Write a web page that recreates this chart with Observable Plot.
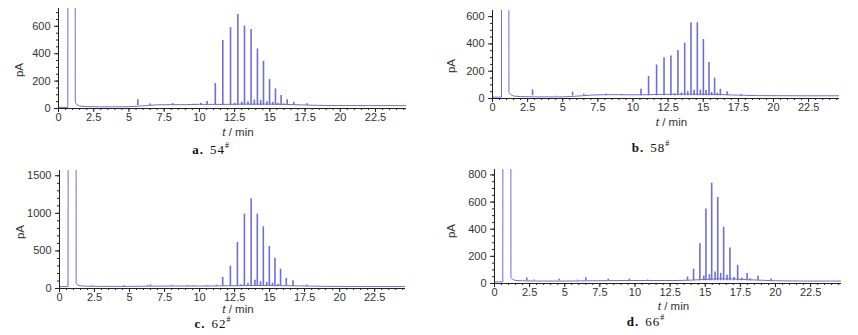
<!DOCTYPE html>
<html><head><meta charset="utf-8">
<script src="https://cdn.jsdelivr.net/npm/d3@7"></script>
<script src="https://cdn.jsdelivr.net/npm/@observablehq/plot@0.6"></script>
<style>
body{margin:0;background:#fff;}
#wrap{position:relative;width:858px;height:335px;overflow:hidden;}
.panel{position:absolute;}
.cap{position:absolute;font-family:"Liberation Serif","DejaVu Serif",serif;font-size:13px;line-height:11px;color:#111;white-space:nowrap;transform:translate(-50%,-50%);letter-spacing:1px;}
.cap b{font-weight:bold;margin-right:6px;}
.cap sup{font-size:8px;vertical-align:6px;line-height:0;}
</style></head><body><div id="wrap"></div>
<script>
// ---- shared tick labels ----
const xMajor = [0, 2.5, 5, 7.5, 10, 12.5, 15, 17.5, 20, 22.5];
const xMax = 24.7;

// ---- panel a: 54# ----
const aBaseT = [0, 0.66, 0.69, 1.16, 1.19, 1.3, 1.5, 2.0, 3.0, 5.0, 5.8, 6.4, 7.0, 8.0, 9.0, 10.0, 11.0, 12.0, 13.0, 14.0, 15.0, 16.0, 17.0, 18.0, 19.0, 22.0, 24.7];
const aBaseY = [8, 8, 5000, 5000, 45, 28, 18, 14, 12, 13, 18, 22, 27, 28, 28, 30, 30, 30, 32, 32, 32, 30, 27, 24, 22, 21, 21];
const aPeakT = [5.63, 6.5, 8.1, 9.6, 10.1, 10.55, 11.13, 11.66, 12.21, 12.5, 12.73, 13.0, 13.2, 13.45, 13.67, 13.9, 14.12, 14.35, 14.55, 14.8, 14.98, 15.2, 15.4, 15.6, 15.8, 16.0, 16.23, 16.7, 17.65];
const aPeakH = [63, 32, 36, 32, 38, 52, 182, 497, 590, 38, 687, 45, 602, 50, 576, 62, 435, 58, 345, 50, 211, 45, 143, 38, 95, 32, 63, 46, 34];
const aFloor = 22;
const aYTicks = [0, 200, 400, 600];

// ---- panel b: 58# ----
const bBaseT = [0, 0.64, 0.67, 1.14, 1.17, 1.3, 1.5, 2.0, 3.0, 5.0, 5.8, 6.4, 7.0, 8.0, 9.0, 10.0, 11.0, 12.0, 14.0, 16.0, 17.0, 18.0, 19.0, 22.0, 24.7];
const bBaseY = [10, 10, 5000, 5000, 45, 28, 18, 14, 12, 12, 16, 20, 25, 28, 28, 27, 28, 30, 32, 30, 26, 23, 21, 20, 20];
const bPeakT = [2.3, 2.85, 4.6, 5.7, 6.5, 8.1, 9.2, 10.57, 11.11, 11.68, 12.21, 12.7, 12.95, 13.2, 13.45, 13.68, 13.9, 14.13, 14.35, 14.58, 14.8, 15.01, 15.2, 15.41, 15.6, 15.81, 16.0, 16.22, 16.7, 17.7];
const bPeakH = [20, 64, 22, 46, 32, 32, 28, 68, 161, 246, 298, 312, 35, 351, 40, 405, 50, 556, 60, 556, 62, 432, 58, 263, 45, 149, 38, 68, 49, 30];
const bFloor = 20;
const bYTicks = [0, 200, 400, 600];

// ---- panel c: 62# ----
const cBaseT = [0, 0.61, 0.64, 1.16, 1.19, 1.3, 1.5, 2.0, 3.0, 5.0, 6.0, 7.0, 8.0, 9.0, 10.0, 11.0, 12.0, 14.0, 16.0, 17.0, 18.0, 19.0, 22.0, 24.7];
const cBaseY = [25, 25, 9000, 9000, 70, 45, 35, 30, 28, 28, 30, 32, 33, 33, 33, 34, 36, 40, 38, 35, 32, 28, 26, 26];
const cPeakT = [2.3, 4.6, 6.3, 6.5, 8.0, 9.1, 9.6, 10.5, 11.2, 11.65, 12.2, 12.7, 12.95, 13.2, 13.45, 13.68, 13.95, 14.12, 14.35, 14.55, 14.8, 14.98, 15.2, 15.38, 15.6, 15.78, 16.19, 16.67, 17.66];
const cPeakH = [38, 40, 40, 48, 44, 40, 40, 40, 45, 146, 298, 612, 50, 990, 70, 1194, 110, 990, 90, 821, 80, 559, 70, 404, 55, 258, 133, 102, 45];
const cFloor = 30;
const cYTicks = [0, 500, 1000, 1500];

// ---- panel d: 66# ----
const dBaseT = [0, 0.59, 0.62, 1.14, 1.17, 1.3, 1.5, 2.0, 3.0, 5.0, 7.0, 9.0, 11.0, 13.0, 14.0, 15.0, 16.0, 17.0, 18.0, 19.0, 20.0, 22.0, 24.7];
const dBaseY = [12, 12, 5000, 5000, 45, 30, 22, 20, 18, 18, 20, 22, 22, 22, 25, 30, 35, 33, 28, 24, 20, 18, 18];
const dPeakT = [2.3, 2.8, 4.6, 5.9, 6.5, 8.1, 9.6, 10.9, 13.74, 14.17, 14.62, 14.9, 15.05, 15.3, 15.46, 15.7, 15.89, 16.1, 16.31, 16.55, 16.76, 17.05, 17.31, 17.6, 17.98, 18.2, 18.76, 19.69];
const dPeakH = [40, 25, 32, 25, 42, 32, 32, 26, 48, 105, 293, 55, 549, 65, 739, 85, 634, 75, 414, 60, 261, 45, 134, 40, 73, 35, 53, 34];
const dFloor = 20;
const dYTicks = [0, 200, 400, 600, 800];

const captions = [["a.", "54"], ["b.", "58"], ["c.", "62"], ["d.", "66"]];

const COLOR = "#6e6ed8";
const AXIS = "#222";
const FONT = "'Liberation Sans', Arial, sans-serif";
const fmt = d => String(d);

const wrap = document.getElementById("wrap");

function panel(o) {
  const base = o.baseT.map((t, i) => ({t, v: o.baseY[i]}));
  const peaks = o.peakT.map((t, i) => ({t, h: o.peakH[i]}));
  const xMinor = d3.range(0, xMax, 0.5);
  const yMinor = d3.range(0, o.yMax, o.yMinorStep);
  const chart = Plot.plot({
    width: o.width, height: o.height,
    marginLeft: o.mL, marginRight: o.mR, marginTop: o.mT, marginBottom: o.mB,
    style: {fontFamily: FONT, fontSize: "11px", color: "#333", background: "transparent", overflow: "visible"},
    x: {domain: [0, xMax]},
    y: {domain: [0, o.yMax]},
    marks: [
      Plot.line(base, {x: "t", y: "v", stroke: COLOR, strokeWidth: 1, clip: true}),
      Plot.ruleX(peaks, {x: "t", y1: o.floor, y2: "h", stroke: COLOR, strokeWidth: 1.6, clip: true}),
      Plot.ruleY([0], {stroke: AXIS, strokeWidth: 1}),
      Plot.ruleX([0], {stroke: AXIS, strokeWidth: 1}),
      Plot.axisX(xMinor, {tickSize: 2, tickFormat: () => "", label: null, stroke: AXIS}),
      Plot.axisX(xMajor, {tickSize: 4, tickPadding: 1, tickFormat: fmt, label: null, stroke: AXIS, fill: "#333"}),
      Plot.axisY(yMinor, {tickSize: 2, tickFormat: () => "", label: null, stroke: AXIS}),
      Plot.axisY(o.yTicks, {tickSize: 4, tickPadding: 4, tickFormat: fmt, label: null, stroke: AXIS, fill: "#333"})
    ]
  });
  const svg = d3.select(chart);
  const cx = (o.mL + o.width - o.mR) / 2;
  svg.append("text")
    .attr("x", cx + 6).attr("y", o.xLabelY)
    .attr("text-anchor", "middle").attr("dominant-baseline", "middle")
    .attr("font-family", FONT).attr("font-size", 11.5).attr("fill", "#333")
    .html('<tspan font-style="italic">t</tspan> / min');
  svg.append("text")
    .attr("transform", `translate(${o.yLabelX},${o.yLabelY}) rotate(-90)`)
    .attr("text-anchor", "middle").attr("dominant-baseline", "middle")
    .attr("font-family", FONT).attr("font-size", 11.5).attr("fill", "#333")
    .text("pA");
  const div = document.createElement("div");
  div.className = "panel";
  div.style.left = o.left + "px";
  div.style.top = o.top + "px";
  div.appendChild(chart);
  wrap.appendChild(div);
  const cap = document.createElement("div");
  cap.className = "cap";
  cap.style.left = o.capX + "px";
  cap.style.top = o.capY + "px";
  cap.innerHTML = `<b>${o.cap[0]}</b>${o.cap[1]}<sup>#</sup>`;
  wrap.appendChild(cap);
}

panel({baseT: aBaseT, baseY: aBaseY, peakT: aPeakT, peakH: aPeakH, floor: aFloor, yMax: 730, yTicks: aYTicks, yMinorStep: 50,
  left: 0, top: 0, width: 429, height: 140, mL: 58, mR: 23, mT: 8, mB: 32, xLabelY: 133, yLabelX: 20, yLabelY: 70,
  cap: captions[0], capX: 211, capY: 149});
panel({baseT: bBaseT, baseY: bBaseY, peakT: bPeakT, peakH: bPeakH, floor: bFloor, yMax: 645, yTicks: bYTicks, yMinorStep: 50,
  left: 429, top: 0, width: 429, height: 130, mL: 63, mR: 19, mT: 10, mB: 32, xLabelY: 123, yLabelX: 23, yLabelY: 66,
  cap: captions[1], capX: 651, capY: 147});
panel({baseT: cBaseT, baseY: cBaseY, peakT: cPeakT, peakH: cPeakH, floor: cFloor, yMax: 1570, yTicks: cYTicks, yMinorStep: 100,
  left: 0, top: 165, width: 429, height: 155, mL: 59, mR: 24, mT: 5, mB: 32, xLabelY: 145, yLabelX: 21, yLabelY: 67,
  cap: captions[2], capX: 213, capY: 323});
panel({baseT: dBaseT, baseY: dBaseY, peakT: dPeakT, peakH: dPeakH, floor: dFloor, yMax: 840, yTicks: dYTicks, yMinorStep: 50,
  left: 429, top: 165, width: 429, height: 150, mL: 65, mR: 17, mT: 4, mB: 32, xLabelY: 142, yLabelX: 23, yLabelY: 66,
  cap: captions[3], capX: 646, capY: 321});
</script>
</body></html>
